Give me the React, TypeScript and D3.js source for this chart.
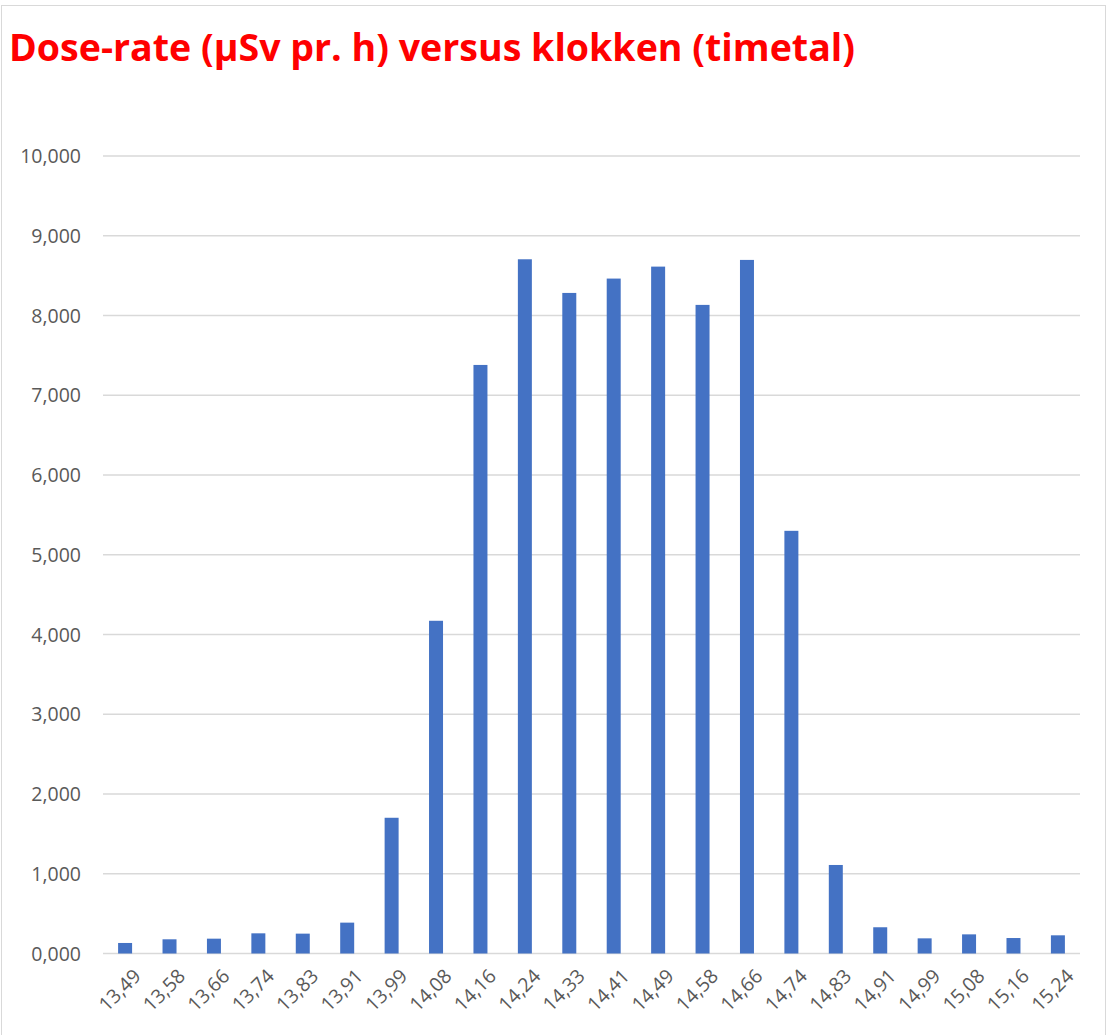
import { useEffect, useRef } from 'react';
import * as d3 from 'd3';

// klokken (timetal) og dose-rate (µSv pr. h)
const times = ['13,49', '13,58', '13,66', '13,74', '13,83', '13,91', '13,99', '14,08', '14,16', '14,24', '14,33',
  '14,41', '14,49', '14,58', '14,66', '14,74', '14,83', '14,91', '14,99', '15,08', '15,16', '15,24'];
const doseRates = [0.132, 0.178, 0.186, 0.253, 0.249, 0.387, 1.702, 4.172, 7.380, 8.705, 8.283,
  8.463, 8.613, 8.133, 8.697, 5.300, 1.110, 0.329, 0.190, 0.240, 0.194, 0.228];
const yTicks = [0, 1, 2, 3, 4, 5, 6, 7, 8, 9, 10];

const fmt = (v: number) => v.toFixed(3).replace('.', ',');

export default function App() {
  const ref = useRef<SVGSVGElement>(null);

  useEffect(() => {
    if (!ref.current) return;
    const svg = d3.select(ref.current);
    svg.selectAll('*').remove();

    const width = 1108;
    const height = 1035;
    const left = 103, right = 1080, top = 156, bottom = 953.5;

    svg.append('rect')
      .attr('x', 1.5).attr('y', 5.5)
      .attr('width', 1104).attr('height', 1040)
      .attr('fill', '#fff')
      .attr('stroke', '#d9d9d9');

    svg.append('text')
      .attr('x', 9).attr('y', 61)
      .attr('fill', '#ff0000')
      .attr('font-family', 'Open Sans, sans-serif')
      .attr('font-weight', 700)
      .attr('font-size', 38)
      .attr('textLength', 846)
      .attr('lengthAdjust', 'spacingAndGlyphs')
      .text('Dose-rate (µSv pr. h) versus klokken (timetal)');

    const x = d3.scaleBand<string>()
      .domain(times)
      .range([left, right])
      .paddingInner(0.685)
      .paddingOuter(0.34);

    const y = d3.scaleLinear().domain([0, 10]).range([bottom, top]);

    // grid
    svg.append('g')
      .selectAll('line')
      .data(yTicks)
      .join('line')
      .attr('x1', left).attr('x2', right)
      .attr('y1', (d) => y(d)).attr('y2', (d) => y(d))
      .attr('stroke', '#d9d9d9')
      .attr('stroke-width', 1.5);

    svg.append('g')
      .selectAll('text')
      .data(yTicks)
      .join('text')
      .attr('x', 81)
      .attr('y', (d) => y(d) + 7)
      .attr('text-anchor', 'end')
      .attr('fill', '#595959')
      .attr('font-family', 'Open Sans, sans-serif')
      .attr('font-size', 19.5)
      .text((d) => fmt(d));

    // bars
    svg.append('g')
      .selectAll('rect')
      .data(doseRates)
      .join('rect')
      .attr('x', (_, i) => x(times[i])!)
      .attr('width', x.bandwidth())
      .attr('y', (d) => y(d))
      .attr('height', (d) => bottom - y(d))
      .attr('fill', '#4472c4');

    // x labels
    svg.append('g')
      .selectAll('text')
      .data(times)
      .join('text')
      .attr('transform', (d) => `translate(${x(d)! + x.bandwidth() / 2 + 7},${bottom + 14}) rotate(-45)`)
      .attr('text-anchor', 'end')
      .attr('dy', '0.72em')
      .attr('fill', '#595959')
      .attr('font-family', 'Open Sans, sans-serif')
      .attr('font-size', 19.5)
      .text((d) => d);

    svg.attr('width', width).attr('height', height);
  }, []);

  return <svg ref={ref} style={{ position: 'absolute', left: 0, top: 0 }} />;
}
